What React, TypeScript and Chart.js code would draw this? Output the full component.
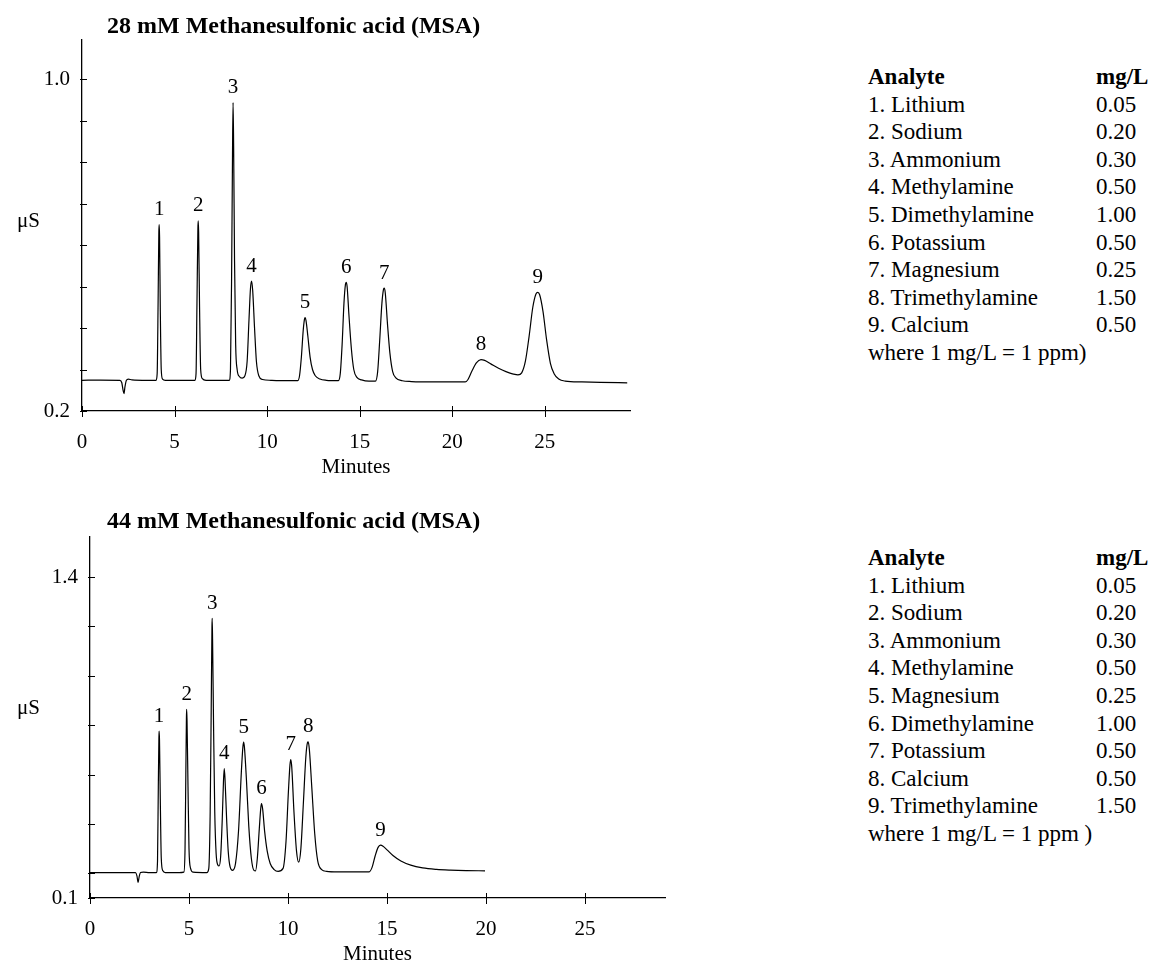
import React, { useEffect, useRef } from "react";
import { Chart, registerables } from "chart.js";

Chart.register(...registerables);

const FONT = '"Liberation Serif", "Times New Roman", Times, serif';

// ---------- shared ----------
const xTicks = [0, 5, 10, 15, 20, 25];
const peakNumbers = ["1", "2", "3", "4", "5", "6", "7", "8", "9"];

// ---------- upper chromatogram: 28 mM MSA ----------
const topTitle = "28 mM Methanesulfonic acid (MSA)";
const topXMax = 29.6;
const topYMin = 0.2;
const topYMax = 1.094;
const topYTicks = [0.2, 0.3, 0.4, 0.5, 0.6, 0.7, 0.8, 0.9, 1.0];
const topYLabelled = [0.2, 1.0];
const topTime = [
  0, 1.0, 2.05, 2.15, 2.22, 2.27, 2.32, 2.4, 2.5, 2.7, 3.5, 4.0,
  4.06, 4.11, 4.15, 4.17, 4.19, 4.23, 4.28, 4.35, 4.5, 5.5,
  6.1, 6.16, 6.21, 6.26, 6.28, 6.3, 6.35, 6.41, 6.5, 6.7, 7.5,
  7.95, 8.02, 8.08, 8.13, 8.16, 8.19, 8.24, 8.3, 8.38, 8.5, 8.65,
  8.8, 8.92, 9.02, 9.1, 9.16, 9.22, 9.32, 9.42, 9.55, 9.75, 10.2, 11.0,
  11.65, 11.75, 11.85, 11.95, 12.02, 12.05, 12.1, 12.2, 12.32, 12.45, 12.6, 12.85, 13.2,
  13.85, 13.95, 14.05, 14.15, 14.23, 14.27, 14.32, 14.42, 14.55, 14.68, 14.85, 15.1, 15.5,
  15.85, 15.97, 16.08, 16.2, 16.28, 16.32, 16.38, 16.5, 16.63, 16.78, 16.95, 17.3, 17.8,
  19.0, 20.0, 20.7, 20.85, 21.05, 21.3, 21.55, 21.75, 22.1, 22.5, 22.9, 23.3, 23.55,
  23.75, 23.95, 24.15, 24.35, 24.52, 24.62, 24.72, 24.9, 25.1, 25.3, 25.5, 25.75, 26.1,
  27.0, 28.0, 29.45,
];
const topSignal = [
  0.274, 0.2745, 0.274, 0.268, 0.25, 0.242, 0.258, 0.274, 0.277, 0.275, 0.274, 0.274,
  0.29, 0.46, 0.63, 0.649, 0.62, 0.44, 0.3, 0.277, 0.274, 0.274,
  0.274, 0.29, 0.46, 0.64, 0.658, 0.63, 0.45, 0.3, 0.278, 0.274, 0.274,
  0.274, 0.3, 0.52, 0.82, 0.943, 0.84, 0.56, 0.36, 0.3, 0.283, 0.279,
  0.285, 0.32, 0.42, 0.495, 0.513, 0.49, 0.4, 0.32, 0.285, 0.276, 0.274, 0.273,
  0.273, 0.285, 0.33, 0.395, 0.422, 0.425, 0.418, 0.38, 0.33, 0.3, 0.285, 0.277, 0.274,
  0.273, 0.29, 0.36, 0.46, 0.505, 0.51, 0.5, 0.43, 0.35, 0.3, 0.281, 0.275, 0.272,
  0.272, 0.295, 0.37, 0.46, 0.492, 0.496, 0.485, 0.41, 0.34, 0.295, 0.28, 0.273, 0.271,
  0.27, 0.27, 0.27, 0.276, 0.295, 0.316, 0.324, 0.322, 0.313, 0.303, 0.295, 0.289, 0.287,
  0.292, 0.32, 0.38, 0.45, 0.482, 0.486, 0.48, 0.44, 0.37, 0.315, 0.29, 0.277, 0.272,
  0.27, 0.269, 0.268,
];
const topPeakTimes = [4.17, 6.28, 8.16, 9.16, 12.05, 14.27, 16.32, 21.55, 24.62];
const topPeakHeights = [0.649, 0.658, 0.943, 0.513, 0.425, 0.51, 0.496, 0.324, 0.486];
const topAnalytes = [
  "1. Lithium", "2. Sodium", "3. Ammonium", "4. Methylamine", "5. Dimethylamine",
  "6. Potassium", "7. Magnesium", "8. Trimethylamine", "9. Calcium",
];
const topConc = ["0.05", "0.20", "0.30", "0.50", "1.00", "0.50", "0.25", "1.50", "0.50"];
const topNote = "where 1 mg/L = 1 ppm)";

// ---------- lower chromatogram: 44 mM MSA ----------
const botTitle = "44 mM Methanesulfonic acid (MSA)";
const botXMax = 29.04;
const botYMin = 0.1;
const botYMax = 1.562;
const botYTicks = [0.1, 0.2, 0.4, 0.6, 0.8, 1.0, 1.2, 1.4];
const botYLabelled = [0.1, 1.4];
const botTime = [
  0, 1.5, 2.3, 2.37, 2.43, 2.48, 2.55, 2.7, 3.0,
  3.35, 3.41, 3.45, 3.48, 3.49, 3.51, 3.55, 3.6, 3.68, 3.8, 4.5,
  4.74, 4.8, 4.84, 4.87, 4.88, 4.9, 4.95, 5.0, 5.08, 5.2, 5.9,
  6.0, 6.07, 6.12, 6.16, 6.17, 6.19, 6.24, 6.3, 6.37, 6.45, 6.52,
  6.6, 6.68, 6.74, 6.78, 6.82, 6.9, 6.98, 7.08, 7.2,
  7.35, 7.5, 7.65, 7.72, 7.76, 7.8, 7.9, 8.02, 8.15, 8.28, 8.36,
  8.45, 8.55, 8.62, 8.66, 8.72, 8.82, 8.95, 9.1, 9.3, 9.5,
  9.75, 9.9, 10.02, 10.1, 10.14, 10.19, 10.3, 10.43, 10.54,
  10.65, 10.78, 10.9, 10.98, 11.02, 11.08, 11.2, 11.35, 11.5, 11.7, 11.95,
  12.5, 13.5, 14.1, 14.25, 14.4, 14.55, 14.67, 14.8, 15.0, 15.3, 15.7,
  16.2, 16.8, 17.5, 18.2, 19.0, 19.95,
];
const botSignal = [
  0.203, 0.203, 0.203, 0.19, 0.163, 0.185, 0.203, 0.205, 0.203,
  0.203, 0.25, 0.55, 0.75, 0.776, 0.74, 0.5, 0.26, 0.21, 0.203, 0.203,
  0.205, 0.3, 0.6, 0.83, 0.864, 0.82, 0.55, 0.3, 0.22, 0.205, 0.203,
  0.22, 0.45, 0.85, 1.2, 1.233, 1.15, 0.8, 0.45, 0.28, 0.235, 0.23,
  0.27, 0.42, 0.57, 0.624, 0.58, 0.42, 0.29, 0.225, 0.212,
  0.24, 0.37, 0.62, 0.71, 0.731, 0.71, 0.58, 0.39, 0.26, 0.212, 0.21,
  0.26, 0.38, 0.46, 0.482, 0.46, 0.37, 0.29, 0.24, 0.215, 0.208,
  0.22, 0.33, 0.53, 0.64, 0.661, 0.63, 0.45, 0.29, 0.245,
  0.3, 0.49, 0.67, 0.728, 0.732, 0.7, 0.55, 0.36, 0.25, 0.215, 0.208,
  0.206, 0.206, 0.206, 0.225, 0.27, 0.305, 0.314, 0.31, 0.295, 0.272, 0.25,
  0.233, 0.222, 0.216, 0.213, 0.211, 0.21,
];
const botPeakTimes = [3.49, 4.88, 6.17, 6.78, 7.76, 8.66, 10.14, 11.02, 14.67];
const botPeakHeights = [0.776, 0.864, 1.233, 0.624, 0.731, 0.482, 0.661, 0.732, 0.314];
const botAnalytes = [
  "1. Lithium", "2. Sodium", "3. Ammonium", "4. Methylamine", "5. Magnesium",
  "6. Dimethylamine", "7. Potassium", "8. Calcium", "9. Trimethylamine",
];
const botConc = ["0.05", "0.20", "0.30", "0.50", "0.25", "1.00", "0.50", "0.50", "1.50"];
const botNote = "where 1 mg/L = 1 ppm )";

type Cfg = {
  title: string;
  time: number[];
  signal: number[];
  xMax: number;
  yMin: number;
  yMax: number;
  yTicks: number[];
  yLabelled: number[];
  peakTimes: number[];
  peakHeights: number[];
  width: number;
  height: number;
  yAxisWidth: number;
  xAxisHeight: number;
  padTop: number;
  padRight: number;
  titleGap: number;
  unitShift: number;
  canvasTop: number;
};

function Chromatogram({ cfg }: { cfg: Cfg }) {
  const ref = useRef<HTMLCanvasElement | null>(null);
  useEffect(() => {
    if (!ref.current) return;
    const decor = {
      id: "decor",
      afterDraw(chart: any) {
        const ctx = chart.ctx as CanvasRenderingContext2D;
        const { left, right, top, bottom } = chart.chartArea;
        const xs = chart.scales.x;
        const ys = chart.scales.y;
        ctx.save();
        ctx.strokeStyle = "#000";
        ctx.lineWidth = 1;
        for (const v of cfg.yTicks) {
          const py = Math.round(ys.getPixelForValue(v)) + 0.5;
          ctx.beginPath();
          ctx.moveTo(left - 2, py);
          ctx.lineTo(left + 5, py);
          ctx.stroke();
        }
        for (const v of xTicks) {
          const px = Math.round(xs.getPixelForValue(v)) + 0.5;
          ctx.beginPath();
          ctx.moveTo(px, bottom - 5);
          ctx.lineTo(px, bottom + 6);
          ctx.stroke();
        }
        ctx.fillStyle = "#000";
        ctx.textBaseline = "middle";
        ctx.textAlign = "left";
        ctx.font = `bold 24px ${FONT}`;
        ctx.fillText(cfg.title, 107, top - cfg.titleGap);
        ctx.font = `21px ${FONT}`;
        ctx.fillText("μS", 17, (top + bottom) / 2 - cfg.unitShift);
        ctx.textAlign = "center";
        ctx.fillText("Minutes", (left + right) / 2, bottom + 56);
        cfg.peakTimes.forEach((t, i) => {
          ctx.fillText(
            peakNumbers[i],
            xs.getPixelForValue(t),
            ys.getPixelForValue(cfg.peakHeights[i]) - 15
          );
        });
        ctx.restore();
      },
    };
    const chart = new Chart(ref.current, {
      type: "line",
      data: {
        datasets: [
          {
            data: cfg.time.map((t, i) => ({ x: t, y: cfg.signal[i] })),
            borderColor: "#000",
            borderWidth: 1.2,
            pointRadius: 0,
            fill: false,
            cubicInterpolationMode: "monotone",
          },
        ],
      },
      options: {
        responsive: false,
        animation: false,
        devicePixelRatio: 1,
        layout: { padding: { top: cfg.padTop, right: cfg.padRight, left: 0, bottom: 0 } },
        plugins: { legend: { display: false }, tooltip: { enabled: false }, title: { display: false } },
        scales: {
          x: {
            type: "linear",
            min: 0,
            max: cfg.xMax,
            grid: { display: false, drawTicks: false },
            border: { display: true, color: "#000", width: 1.3 },
            afterBuildTicks: (s: any) => {
              s.ticks = xTicks.map((v) => ({ value: v }));
            },
            afterFit: (s: any) => {
              s.height = cfg.xAxisHeight;
            },
            ticks: {
              color: "#000",
              font: { family: FONT, size: 21 },
              padding: 19,
              maxRotation: 0,
              autoSkip: false,
              callback: (v: any) => String(v),
            },
          },
          y: {
            type: "linear",
            min: cfg.yMin,
            max: cfg.yMax,
            grid: { display: false, drawTicks: false },
            border: { display: true, color: "#000", width: 1.3 },
            afterBuildTicks: (s: any) => {
              s.ticks = cfg.yTicks.map((v) => ({ value: v }));
            },
            afterFit: (s: any) => {
              s.width = cfg.yAxisWidth;
            },
            ticks: {
              color: "#000",
              font: { family: FONT, size: 21 },
              padding: 12,
              autoSkip: false,
              callback: (v: any) => (cfg.yLabelled.includes(v) ? Number(v).toFixed(1) : ""),
            },
          },
        },
      },
      plugins: [decor],
    } as any);
    return () => chart.destroy();
  }, [cfg]);
  return (
    <canvas
      ref={ref}
      width={cfg.width}
      height={cfg.height}
      style={{ position: "absolute", left: 0, top: cfg.canvasTop, width: cfg.width, height: cfg.height, display: "block" }}
    />
  );
}

function AnalyteTable({ top, names, conc, note }: { top: number; names: string[]; conc: string[]; note: string }) {
  const row: React.CSSProperties = { display: "flex", whiteSpace: "nowrap" };
  return (
    <div
      style={{
        position: "absolute",
        left: 868,
        top,
        fontFamily: FONT,
        fontSize: 23,
        lineHeight: "27.6px",
        color: "#000",
      }}
    >
      <div style={row}>
        <span style={{ width: 228, fontWeight: "bold" }}>Analyte</span>
        <span style={{ fontWeight: "bold" }}>mg/L</span>
      </div>
      {names.map((n, i) => (
        <div key={n} style={row}>
          <span style={{ width: 228 }}>{n}</span>
          <span>{conc[i]}</span>
        </div>
      ))}
      <div style={row}>{note}</div>
    </div>
  );
}

const topCfg: Cfg = {
  title: topTitle,
  time: topTime,
  signal: topSignal,
  xMax: topXMax,
  yMin: topYMin,
  yMax: topYMax,
  yTicks: topYTicks,
  yLabelled: topYLabelled,
  peakTimes: topPeakTimes,
  peakHeights: topPeakHeights,
  width: 680,
  height: 490,
  yAxisWidth: 82,
  xAxisHeight: 79,
  padTop: 40,
  padRight: 50,
  titleGap: 13,
  unitShift: 4,
  canvasTop: 0,
};

const botCfg: Cfg = {
  title: botTitle,
  time: botTime,
  signal: botSignal,
  xMax: botXMax,
  yMin: botYMin,
  yMax: botYMax,
  yTicks: botYTicks,
  yLabelled: botYLabelled,
  peakTimes: botPeakTimes,
  peakHeights: botPeakHeights,
  width: 680,
  height: 475,
  yAxisWidth: 90,
  xAxisHeight: 67,
  padTop: 47,
  padRight: 15,
  titleGap: 15,
  unitShift: 9,
  canvasTop: 490,
};

export default function App() {
  return (
    <div style={{ position: "absolute", left: 0, top: 0, width: 1151, height: 965, background: "#fff", overflow: "hidden" }}>
      <Chromatogram cfg={topCfg} />
      <Chromatogram cfg={botCfg} />
      <AnalyteTable top={63} names={topAnalytes} conc={topConc} note={topNote} />
      <AnalyteTable top={544} names={botAnalytes} conc={botConc} note={botNote} />
    </div>
  );
}
